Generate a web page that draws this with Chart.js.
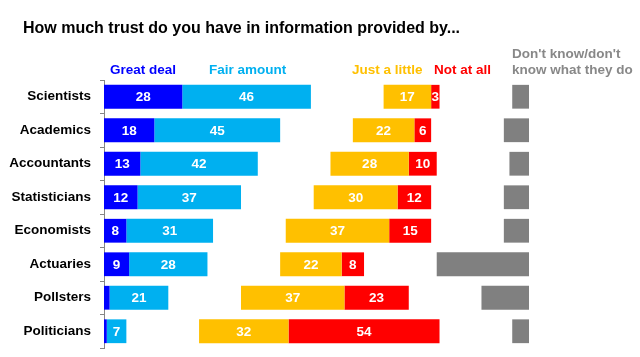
<!DOCTYPE html>
<html>
<head>
<meta charset="utf-8">
<script src="https://cdn.jsdelivr.net/npm/chart.js@4/dist/chart.umd.min.js"></script>
<style>
  body { margin: 0; background: #fff; }
  #caja { width: 640px; height: 357px; position: relative; }
</style>
</head>
<body>
<div id="caja"><canvas id="plot1"></canvas></div>
<script>
let categorias = ['Scientists', 'Academics', 'Accountants', 'Statisticians', 'Economists', 'Actuaries', 'Pollsters', 'Politicians'];
let greatDeal = [28, 18, 13, 12, 8, 9, 2, 1];
let fairAmount = [46, 45, 42, 37, 31, 28, 21, 7];
let justALittle = [17, 22, 28, 30, 37, 22, 37, 32];
let notAtAll = [3, 6, 10, 12, 15, 8, 23, 54];
let dontKnow = [6, 9, 7, 9, 9, 33, 17, 6];
// espacio vacio entre los grupos de barras
let hueco = 26;
let ejeMax = 152;

let titulo = 'How much trust do you have in information provided by...';
let fuente = "'Liberation Sans', Arial, sans-serif";

let encabezados = [
  { texto: ['Great deal'], color: '#0000FF', x: 110 },
  { texto: ['Fair amount'], color: '#00B0F0', x: 209 },
  { texto: ['Just a little'], color: '#FFC000', x: 352 },
  { texto: ['Not at all'], color: '#FF0000', x: 434 },
  { texto: ["Don't know/don't", 'know what they do'], color: '#888888', x: 512 }
];

let serie = (label, data, color, conValor) => ({
  label: label,
  data: data,
  backgroundColor: color,
  borderWidth: 0,
  conValor: conValor
});

let datasets = [
  serie('Great deal', greatDeal, '#0000FF', true),
  serie('Fair amount', fairAmount, '#00B0F0', true),
  serie('', categorias.map(() => hueco), 'rgba(0,0,0,0)', false),
  serie('Just a little', justALittle, '#FFC000', true),
  serie('Not at all', notAtAll, '#FF0000', true),
  serie('', categorias.map(() => hueco), 'rgba(0,0,0,0)', false),
  serie("Don't know/don't know what they do", dontKnow, '#808080', false)
];

// Plugin para el titulo, los valores dentro de las barras y los encabezados
let textos = {
  id: 'textos',
  afterDatasetsDraw: (chart) => {
    let ctx = chart.ctx;
    ctx.save();
    ctx.font = 'bold 13.5px ' + fuente;
    ctx.fillStyle = '#FFFFFF';
    ctx.textAlign = 'center';
    ctx.textBaseline = 'middle';
    chart.data.datasets.forEach((ds, i) => {
      if (!ds.conValor) return;
      chart.getDatasetMeta(i).data.forEach((barra, j) => {
        let valor = ds.data[j];
        if (valor < 3) return;
        let p = barra.getCenterPoint();
        ctx.fillText(String(valor), p.x, p.y + 1);
      });
    });

    ctx.textAlign = 'left';
    ctx.textBaseline = 'alphabetic';
    ctx.font = 'bold 16px ' + fuente;
    ctx.fillStyle = '#000000';
    ctx.fillText(titulo, 23, 32.5);

    ctx.font = 'bold 13.5px ' + fuente;
    encabezados.forEach(enc => {
      ctx.fillStyle = enc.color;
      let base = 74 - (enc.texto.length - 1) * 16.5;
      enc.texto.forEach((linea, k) => {
        ctx.fillText(linea, enc.x, base + k * 16.5);
      });
    });
    ctx.restore();
  }
};

let plotRef = document.getElementById('plot1');
let config = {
  type: 'bar',
  data: {
    labels: categorias,
    datasets: datasets
  },
  options: {
    indexAxis: 'y',
    responsive: true,
    maintainAspectRatio: false,
    animation: false,
    layout: { padding: { left: 0, right: 111, top: 80, bottom: 9 } },
    datasets: { bar: { barPercentage: 0.71, categoryPercentage: 1 } },
    plugins: {
      legend: { display: false },
      tooltip: { enabled: false },
      title: { display: false }
    },
    scales: {
      x: {
        stacked: true,
        display: false,
        min: 0,
        max: ejeMax
      },
      y: {
        stacked: true,
        afterFit: (scale) => {
          scale.width = 104;
          scale.paddingTop = 0;
          scale.paddingBottom = 0;
        },
        grid: { drawOnChartArea: false, tickLength: 4, color: '#868686' },
        border: { display: true, color: '#868686' },
        ticks: {
          color: '#000000',
          padding: 9,
          font: { family: fuente, size: 13.5, weight: 'bold' }
        }
      }
    }
  },
  plugins: [textos]
};
let chart1 = new Chart(plotRef, config);
</script>
</body>
</html>
